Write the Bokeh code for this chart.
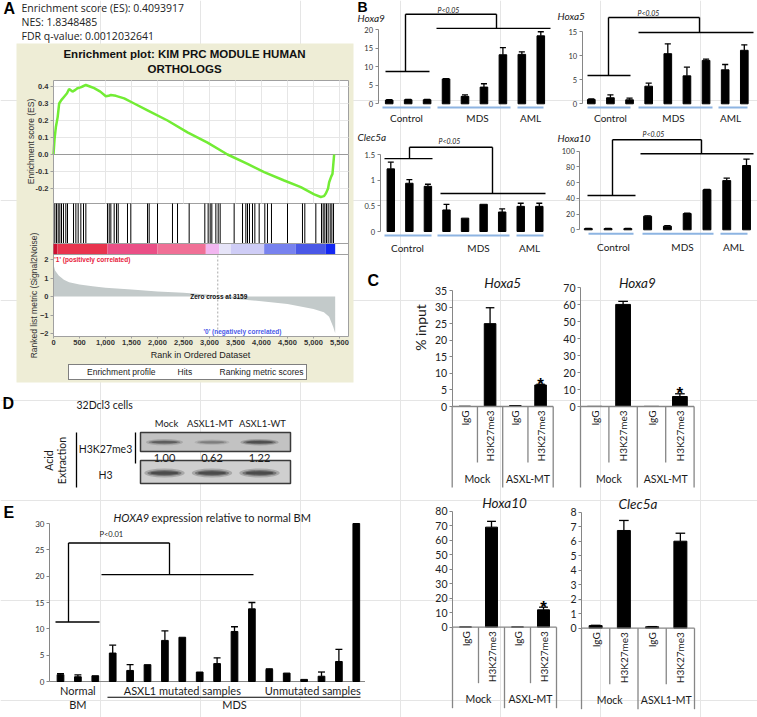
import math
from bokeh.plotting import figure
from bokeh.models import (Range1d, LinearAxis, FixedTicker, PrintfTickFormatter,
                          NumeralTickFormatter, Legend, LegendItem)
from bokeh.embed import file_html
from bokeh.resources import INLINE
from bokeh.core.properties import value

W, H = 757, 717
XL = "Lato"
AR = "Liberation Sans"
OS = "Open Sans"
TAN = "#eeedd6"
GREEN = "#72ec34"
AXIS = "#868686"
BLUE = "#8db4e2"
DARK = "#1a1a1a"

# ======================= DATA =======================
# Panel A (GSEA)
es_stats = ["Enrichment score (ES): 0.4093917", "NES: 1.8348485", "FDR q-value: 0.0012032641"]
gsea_title = ["Enrichment plot: KIM PRC MODULE HUMAN", "ORTHOLOGS"]
es_rank = [0, 20, 45, 80, 109, 150, 205, 260, 300, 365, 420, 460, 520, 558, 622, 700, 782, 900,
           1006, 1060, 1103, 1200, 1359, 1551, 1808, 2192, 2577, 2962, 3346, 3731, 4051, 4436,
           4756, 5013, 5141, 5200, 5237, 5280, 5301, 5340, 5365, 5397]
es_value = [0.0, 0.09, 0.16, 0.22, 0.30, 0.32, 0.34, 0.36, 0.385, 0.37, 0.38, 0.39, 0.395, 0.40,
            0.409, 0.40, 0.39, 0.37, 0.343, 0.345, 0.35, 0.345, 0.33, 0.30, 0.26, 0.20, 0.13,
            0.07, 0.0, -0.055, -0.104, -0.153, -0.192, -0.235, -0.25, -0.245, -0.23, -0.2,
            -0.163, -0.13, -0.114, 0.0]
es_ticks = [-0.2, -0.1, 0.0, 0.1, 0.2, 0.3, 0.4]
hit_ranks = [26, 58, 90, 122, 154, 192, 237, 269, 385, 430, 474, 526, 577, 622, 1038, 1071, 1103,
             1167, 1212, 1244, 1423, 1487, 1808, 1840, 2000, 2288, 2385, 2609, 2910, 2974, 3013,
             3045, 3122, 3167, 3205, 3474, 3635, 3699, 3731, 3769, 3827, 3872, 3955, 4064, 4115,
             4192, 4500, 4788, 4833, 5045, 5154, 5186, 5218, 5250, 5282, 5321, 5353, 5385]
metric_rank = [0, 30, 100, 200, 300, 500, 750, 1000, 1500, 2000, 2500, 3000, 3159, 3500, 4000,
               4500, 5000, 5200, 5300, 5380, 5417]
metric_value = [1.75, 1.4, 1.13, 0.9, 0.77, 0.65, 0.55, 0.47, 0.38, 0.27, 0.2, 0.1, 0.0, -0.13,
                -0.25, -0.4, -0.67, -0.85, -1.1, -1.65, -1.98]
zero_cross = 3159
rank_ticks = list(range(0, 5501, 500))
metric_ticks = [-2, -1, 0, 1, 2]
cb_start = [0, 77, 1038, 2000, 2929, 3186, 3410, 4051, 4660, 5237]
cb_end = [77, 1038, 2000, 2929, 3186, 3410, 4051, 4660, 5237, 5417]
cb_color = ["#cc1030", "#e8344e", "#ea4f86", "#f07096", "#f2b6f0", "#e6e4f8", "#cfcdf6",
            "#7882ee", "#4a58e6", "#1428f2"]
legend_labels = ["Enrichment profile", "Hits", "Ranking metric scores"]

# Panel B
b_groups = ["Control", "MDS", "AML"]
hoxa9_b = [1.0, 1.1, 1.1, 6.7, 2.0, 4.5, 13.2, 13.3, 18.3]
hoxa9_b_err = [0.1, 0.1, 0.1, 0.1, 0.4, 0.9, 1.9, 0.7, 1.1]
hoxa5_b = [0.9, 1.25, 0.83, 3.65, 10.4, 5.8, 9.0, 7.05, 11.1]
hoxa5_b_err = [0.1, 0.62, 0.33, 0.62, 2.05, 1.8, 0.27, 1.1, 1.14]
clec5a_b = [1.22, 0.94, 0.88, 0.42, 0.26, 0.53, 0.38, 0.49, 0.49]
clec5a_b_err = [0.13, 0.07, 0.04, 0.11, 0.0, 0.0, 0.06, 0.06, 0.06]
hoxa10_b = [1.5, 1.5, 1.5, 17.3, 4.6, 20.7, 50.9, 62.6, 81.8]
hoxa10_b_err = [0.3, 0.3, 0.3, 0.5, 0.8, 0.5, 0.5, 3.1, 8.2]
# bracket levels: (control line, top, other line)
hoxa9_b_br = [8.7, 24.1, 20.3]
hoxa5_b_br = [5.87, 17.9, 14.8]
clec5a_b_br = [1.42, 1.64, 0.74]
hoxa10_b_br = [43.6, 114.5, 96.7]
b_pval = "P<0.05"

# Panel C
c_cats = ["IgG", "H3K27me3", "IgG", "H3K27me3"]
c_groups = ["Mock", "ASXL-MT"]
c_groups_clec = ["Mock", "ASXL1-MT"]
hoxa5_c = [0.1, 25.0, 0.3, 6.5]
hoxa5_c_err = [0.0, 4.8, 0.0, 0.2]
hoxa9_c = [0.1, 60.2, 0.1, 5.9]
hoxa9_c_err = [0.0, 1.8, 0.0, 1.6]
hoxa10_c = [0.2, 69.0, 0.2, 12.0]
hoxa10_c_err = [0.0, 4.0, 0.0, 1.8]
clec5a_c = [0.18, 6.74, 0.1, 6.0]
clec5a_c_err = [0.02, 0.69, 0.01, 0.55]

# Panel D
d_lanes = ["Mock", "ASXL1-MT", "ASXL1-WT"]
d_h3k27_rel = [1.00, 0.62, 1.22]
d_rows = ["H3K27me3", "H3"]

# Panel E
e_vals = [1.3, 0.9, 1.1, 5.4, 2.1, 3.2, 7.8, 8.4, 1.8, 3.4, 9.5, 13.8, 2.3, 1.6, 0.4, 1.0, 3.8, 30.0]
e_errs = [0.2, 0.35, 0.0, 1.5, 1.1, 0.0, 1.8, 0.0, 0.0, 1.1, 0.9, 1.2, 0.1, 0.0, 0.0, 0.8, 2.3, 0.0]
e_groups = ["Normal", "ASXL1 mutated samples", "Unmutated samples"]
e_first = [0, 3, 12]
e_last = [2, 11, 17]
e_br = [11.3, 26.3, 20.3]
e_ticks = [0, 5, 10, 15, 20, 25, 30]

# ======================= CANVAS =======================
p = figure(width=W, height=H, x_range=Range1d(0, W), y_range=Range1d(H, 0),
           x_axis_location=None, y_axis_location=None, toolbar_location=None,
           output_backend="svg", min_border_left=0, min_border_right=0,
           min_border_top=0, min_border_bottom=0)
p.outline_line_color = None
p.background_fill_color = "white"
p.border_fill_color = "white"

XR, YR = {}, {}


class Sub:
    """A panel: its own x / y scales, fixed by two reference points each (page px <-> data)."""

    def __init__(self, name, xa, xb, ya, yb):
        self.name = name
        self.kx = (xb[1] - xa[1]) / (xb[0] - xa[0])
        self.ky = (ya[1] - yb[1]) / (yb[0] - ya[0])
        self.xa, self.ya = xa, ya
        XR[name] = Range1d(xa[1] - xa[0] * self.kx, xa[1] + (W - xa[0]) * self.kx)
        YR[name] = Range1d(ya[1] - (H - ya[0]) * self.ky, ya[1] + ya[0] * self.ky)
        self.kw = dict(x_range_name=name, y_range_name=name)

    def px(self, X):
        return self.xa[1] + (X - self.xa[0]) * self.kx

    def py(self, Y):
        return self.ya[1] - (Y - self.ya[0]) * self.ky


def T(xs, ys, texts, size, font=XL, color=DARK, align="center", baseline="middle",
      style="normal", angle=0.0, s=None):
    kw = s.kw if s is not None else {}
    p.text(x=list(xs), y=list(ys), text=list(texts), text_font=value(font),
           text_font_size=value(f"{size}px"), text_color=color, text_align=align,
           text_baseline=baseline, text_font_style=style, angle=angle, **kw)


def seg(x0, x1, y0, y1, color="black", width=1.3, s=None, dash=None):
    kw = s.kw if s is not None else {}
    if dash:
        kw = dict(kw, line_dash=dash)
    p.segment(x0=list(x0), x1=list(x1), y0=list(y0), y1=list(y1), line_color=color,
              line_width=width, **kw)


def yaxis(s, loc, ticks, size, font=XL, color="#333", line_color=AXIS, fmt=None, bold=False,
          side="left", bounds=None):
    ax = LinearAxis(x_range_name=s.name, y_range_name=s.name, fixed_location=loc,
                    ticker=FixedTicker(ticks=ticks),
                    bounds=bounds if bounds else (min(ticks), max(ticks)))
    ax.major_label_text_font = font
    ax.major_label_text_font_size = f"{size}px"
    ax.major_label_text_color = color
    ax.major_label_standoff = 2
    ax.major_tick_out = 3
    ax.major_tick_in = 0
    ax.minor_tick_out = 0
    ax.minor_tick_in = 0
    ax.axis_line_color = line_color
    ax.major_tick_line_color = line_color
    if bold:
        ax.major_label_text_font_style = "bold"
    if fmt is not None:
        ax.formatter = fmt
    p.add_layout(ax, side)
    return ax


def errbars(s, xs, vals, errs, cap):
    ex = [x for x, e in zip(xs, errs) if e > 0]
    ey0 = [v for v, e in zip(vals, errs) if e > 0]
    ey1 = [v + e for v, e in zip(vals, errs) if e > 0]
    seg(ex, ex, ey0, ey1, s=s)
    seg([x - cap for x in ex], [x + cap for x in ex], ey1, ey1, s=s)


def bracket(s, levels, xl, xv, xr, lw=1.4):
    yl, yt, yo = levels
    seg([xl[0], xv[0], xv[0], xv[1], xr[0]], [xl[1], xv[0], xv[1], xv[1], xr[1]],
        [yl, yl, yt, yt, yo], [yl, yt, yt, yo, yo], width=lw, s=s)


# ======================= PANEL A =======================
T([3], [8], ["A"], 16, font=AR, style="bold", align="left", color="black")
T([21, 21, 21], [7.5, 21, 35], es_stats, 10.5, font=OS, align="left", color="#222")
p.quad(left=[16], right=[353], top=[43], bottom=[382], fill_color=TAN, line_color=None)
T([184, 184], [53.5, 68.5], gsea_title, 11.5, font=AR, style="bold", color="#111")

gs = Sub("gs", (53, 0), (339, 5500), (154, 0.0), (86, 0.4))
gm = Sub("gm", (53, 0), (339, 5500), (296, 0.0), (259, 2.0))
gh = Sub("gh", (53, 0), (339, 5500), (243, 0.0), (203, 1.0))

# frames
p.quad(left=[53, 53], right=[348, 348], top=[80, 203], bottom=[203, 336],
       fill_color="white", line_color="#a0a0a0", line_width=1)
# ES grid
es_top, es_bot, x_right = gs.py(80), gs.py(203), gs.px(348)
gx = [t for t in rank_ticks if t > 0]
seg(gx, gx, [es_bot] * len(gx), [es_top] * len(gx), color="#e6e6e6", width=1, s=gs)
seg([0] * len(es_ticks), [x_right] * len(es_ticks), es_ticks, es_ticks, color="#e6e6e6", width=1,
    s=gs)
seg([0], [x_right], [0], [0], color="#9a9a9a", width=1, s=gs)
p.line(x=es_rank, y=es_value, line_color=GREEN, line_width=2.5, **gs.kw)
yaxis(gs, 0, es_ticks, 7.5, font=AR, fmt=PrintfTickFormatter(format="%.1f"), color="#333",
      line_color="#a0a0a0", bold=True)
T([30], [141], ["Enrichment score (ES)"], 8.5, font=AR, color="#333", angle=math.pi / 2)

# hits + colour bar + ranked metric
p.varea(x=metric_rank, y1=0, y2=metric_value, fill_color="#c3caca", **gm.kw)
seg(hit_ranks, hit_ranks, [0] * len(hit_ranks), [1] * len(hit_ranks), width=1, s=gh)
p.quad(left=cb_start, right=cb_end, bottom=gh.py(254), top=0, fill_color=cb_color,
       line_color=None, **gh.kw)
seg([53, 53], [348, 348], [243, 254], [243, 254], color="#a0a0a0", width=1)
seg([zero_cross], [zero_cross], [gm.py(255)], [gm.py(336)], color="#a8a8a8", width=1, s=gm,
    dash="2 2")
T([15], [gm.py(258.5)], ["'1' (positively correlated)"], 6.5, font=AR, style="bold",
  color="#e8203a", align="left", s=gm)
T([zero_cross + 20], [0.02], [f"Zero cross at {zero_cross}"], 6.5, font=AR, style="bold",
  color="#111", s=gm)
T([gm.px(242)], [gm.py(331)], ["'0' (negatively correlated)"], 6.5, font=AR, style="bold",
  color="#4a5ae8", s=gm)
yaxis(gm, 0, metric_ticks, 7.5, font=AR, color="#333", line_color="#a0a0a0", bold=True)
axb = yaxis(gm, gm.py(336), rank_ticks, 7.5, font=AR, color="#333", line_color="#a0a0a0",
            bold=True, side="below", fmt=NumeralTickFormatter(format="0,0"))
axb.major_tick_out = 2
axb.major_label_standoff = 1
T([200], [354], ["Rank in Ordered Dataset"], 9, font=AR, color="#222")
T([33], [295], ["Ranked list metric (Signal2Noise)"], 8.5, font=AR, color="#333",
  angle=math.pi / 2)

# legend
lr1 = p.line(x=[], y=[], line_color=GREEN, line_width=2)
lr2 = p.line(x=[], y=[], line_color="black", line_width=1.3)
lr3 = p.line(x=[], y=[], line_color="#c8c8c8", line_width=1.3)
leg = Legend(items=[LegendItem(label=legend_labels[0], renderers=[lr1]),
                    LegendItem(label=legend_labels[1], renderers=[lr2]),
                    LegendItem(label=legend_labels[2], renderers=[lr3])],
             location=(68, H - 380), orientation="horizontal")
leg.label_text_font = AR
leg.label_text_font_size = "8.5px"
leg.label_text_color = "#222"
leg.glyph_width = 14
leg.glyph_height = 9
leg.label_height = 9
leg.label_standoff = 2
leg.spacing = 6
leg.padding = 2
leg.margin = 0
leg.border_line_color = "black"
leg.border_line_width = 1
leg.background_fill_color = "white"
leg.background_fill_alpha = 1.0
p.add_layout(leg)

# ======================= PANEL B =======================
def b_chart(s, axis_x, vals, errs, levels, title, lay, ticks):
    idx = list(range(len(vals)))
    p.vbar(x=idx, top=vals, width=0.4, bottom=0, color="black", **s.kw)
    errbars(s, idx, vals, errs, 0.16)
    bracket(s, levels, [s.px(v) for v in lay["ctrl"]], [s.px(v) for v in lay["vert"]],
            [s.px(v) for v in lay["other"]])
    T([lay["p"][0]], [lay["p"][1]], [b_pval], 7, style="italic", align="left")
    gl = lay["glines"]
    seg([s.px(a) for a, b in gl], [s.px(b) for a, b in gl], [s.py(lay["gy"])] * 3,
        [s.py(lay["gy"])] * 3, color=BLUE, width=2, s=s)
    T([s.px(c) for c in lay["gx"]], [s.py(lay["gly"])] * 3, b_groups, 10, s=s)
    yaxis(s, s.px(axis_x), ticks, 7.5, color="#333")
    T([lay["t"][0]], [lay["t"][1]], [title], 10, style="italic", align="left")


b9 = Sub("b9", (388.7, 0), (540.3, 8), (103.3, 0), (29, 20))
b_chart(b9, 377.5, hoxa9_b, hoxa9_b_err, hoxa9_b_br, "Hoxa9",
        dict(ctrl=(385, 429), vert=(405, 496), other=(436, 550), p=(437, 9),
             glines=[(382, 430), (437, 510), (517, 543)], gy=107, gx=[406, 477, 530], gly=117,
             t=(357, 17.5)), [0, 5, 10, 15, 20])
b5 = Sub("b5", (590.8, 0), (743.8, 8), (103.3, 0), (31, 15))
b_chart(b5, 581.7, hoxa5_b, hoxa5_b_err, hoxa5_b_br, "Hoxa5",
        dict(ctrl=(587, 630), vert=(608, 699), other=(638, 753), p=(637, 12),
             glines=[(587, 630), (638, 712), (718, 747)], gy=107, gx=[610, 673, 730], gly=117,
             t=(557, 15)), [0, 5, 10, 15])
bc = Sub("bc", (390.3, 0), (538.8, 8), (231, 0), (154, 1.5))
b_chart(bc, 379.5, clec5a_b, clec5a_b_err, clec5a_b_br, "Clec5a",
        dict(ctrl=(384, 432), vert=(409, 492), other=(440, 545), p=(438, 140),
             glines=[(384, 431), (437, 509), (516, 543)], gy=235, gx=[407, 478, 529], gly=247,
             t=(357, 136)), [0, 0.5, 1, 1.5])
b10 = Sub("b10", (587.8, 0), (746, 8), (229.3, 0), (150.7, 100))
b_chart(b10, 579.3, hoxa10_b, hoxa10_b_err, hoxa10_b_br, "Hoxa10",
        dict(ctrl=(587, 635), vert=(612, 701), other=(640, 753), p=(642, 133),
             glines=[(588, 633), (642, 713), (720, 747)], gy=233.3, gx=[613, 682, 733], gly=246,
             t=(557, 137)), [0, 20, 40, 60, 80, 100])
T([357], [6.5], ["B"], 14, font=AR, style="bold", align="left", color="black")


# ======================= PANEL C =======================
def c_chart(s, base, vals, errs, title, groups, ticks, star=True, bar_w=0.46):
    idx = list(range(len(vals)))
    p.vbar(x=idx, top=vals, width=bar_w, bottom=0, color="black", **s.kw)
    errbars(s, idx, vals, errs, 0.17)
    seg([-0.5], [3.5], [0], [0], color=AXIS, s=s)
    ox = [-0.5, 1.5, 3.5]
    ix = [0.5, 2.5]
    seg(ox, ox, [0] * 3, [s.py(base + 81)] * 3, color=AXIS, s=s)
    seg(ix, ix, [0] * 2, [s.py(base + 56)] * 2, color=AXIS, s=s)
    T(idx, [s.py(base + 4)] * 4, c_cats, 10, align="right", angle=math.pi / 2, s=s)
    T([0.5, 2.5], [s.py(base + 72)] * 2, groups, 10.5, s=s)
    T([1.5], [s.py(base - 124)], [title], 13.5, style="italic", s=s)
    if star:
        T([3], [vals[3] + errs[3]], ["*"], 17, font=AR, style="bold", color="black",
          baseline="alphabetic", s=s)
    yaxis(s, -0.5, ticks, 10.5, color="#222")


c5 = Sub("c5", (451.7, -0.5), (552.7, 3.5), (406, 0), (290, 35))
c_chart(c5, 406, hoxa5_c, hoxa5_c_err, "Hoxa5", c_groups, list(range(0, 36, 5)))
c9 = Sub("c9", (580, -0.5), (693.6, 3.5), (406, 0), (287.3, 70))
c_chart(c9, 406, hoxa9_c, hoxa9_c_err, "Hoxa9", c_groups, list(range(0, 71, 10)), bar_w=0.52)
c10 = Sub("c10", (452, -0.5), (556, 3.5), (626.7, 0), (510.7, 80))
c_chart(c10, 626.7, hoxa10_c, hoxa10_c_err, "Hoxa10", c_groups, list(range(0, 81, 10)))
cc = Sub("cc", (581, -0.5), (694, 3.5), (627.7, 0), (511.7, 8))
c_chart(cc, 627.7, clec5a_c, clec5a_c_err, "Clec5a", c_groups_clec, list(range(0, 9)), star=False)
T([367], [280], ["C"], 16, font=AR, style="bold", align="left", color="black")
T([420], [327], ["% input"], 14, angle=math.pi / 2)

# ======================= PANEL D =======================
d = Sub("d", (164, 0), (259, 2), (441.7, 0), (472.5, 1))
lanes = list(range(len(d_lanes)))
p.quad(left=[d.px(140)] * 2, right=[d.px(290)] * 2, top=[d.py(432), d.py(460)],
       bottom=[d.py(451), d.py(483)], fill_color=["#c2c2c2", "#cfcfcf"], line_color="#3a3a3a",
       line_width=1.5, **d.kw)
for ws, hs, a in [(1.0, 1.0, 0.18), (0.85, 0.65, 0.3), (0.7, 0.38, 0.4)]:
    p.ellipse(x=lanes, y=[0] * 3, width=[0.78 * ws * (0.85 + 0.15 * r) for r in d_h3k27_rel],
              height=[0.2 * hs * (0.7 + 0.3 * r) for r in d_h3k27_rel], fill_color="#1e1e1e",
              fill_alpha=[a * r / 1.1 for r in d_h3k27_rel], line_color=None, **d.kw)
    p.ellipse(x=lanes, y=[1] * 3, width=0.85 * ws, height=0.3 * hs, fill_color="#1e1e1e",
              fill_alpha=a * 1.2, line_color=None, **d.kw)
T([2], [403], ["D"], 16, font=AR, style="bold", align="left", color="black")
T([76], [404], ["32Dcl3 cells"], 10.5, align="left")
T([166, 209.5, 262], [423] * 3, d_lanes, 9.5)
T(lanes, [d.py(457)] * 3, [f"{r:.2f}" for r in d_h3k27_rel], 11, s=d)
T([105, 105], [448, 474], d_rows, 10.5)
T([48, 61], [460, 460], ["Acid", "Extraction"], 10.5, angle=math.pi / 2)
seg([76, 135], [76, 135], [432, 432], [487, 463])

# ======================= PANEL E =======================
e = Sub("e", (60, 0), (355.8, 17), (681, 0), (523, 30))
e_idx = list(range(len(e_vals)))
seg([e.px(49)], [17.5], [0], [0], color=AXIS, width=1.2, s=e)
p.vbar(x=e_idx, top=e_vals, width=0.385, bottom=0, color="black", **e.kw)
errbars(e, e_idx, e_vals, e_errs, 0.2)
bracket(e, e_br, (e.px(55), e.px(99)), (e.px(68), e.px(169)), (e.px(101), e.px(253)), lw=1.3)
T([99], [534], ["P<0.01"], 7.5, align="left")
T([113], [517], ["HOXA9"], 11, style="italic", align="left")
T([151], [517], ["expression relative to normal BM"], 11, align="left")
grp_c = [(f + l) / 2 for f, l in zip(e_first, e_last)]
T(grp_c, [e.py(690)] * 3, e_groups, 11, s=e)
T([grp_c[0], (e_first[1] + e_last[2]) / 2], [e.py(704)] * 2, ["BM", "MDS"], 11, s=e)
seg([e_first[1] - 0.3], [e_last[2] + 0.24], [e.py(696.7)], [e.py(696.7)], width=1.1, s=e)
yaxis(e, e.px(49), e_ticks, 8, color="#333")
T([3], [512], ["E"], 16, font=AR, style="bold", align="left", color="black")

p.extra_x_ranges = XR
p.extra_y_ranges = YR

open("out.html", "w").write(file_html(p, INLINE))
